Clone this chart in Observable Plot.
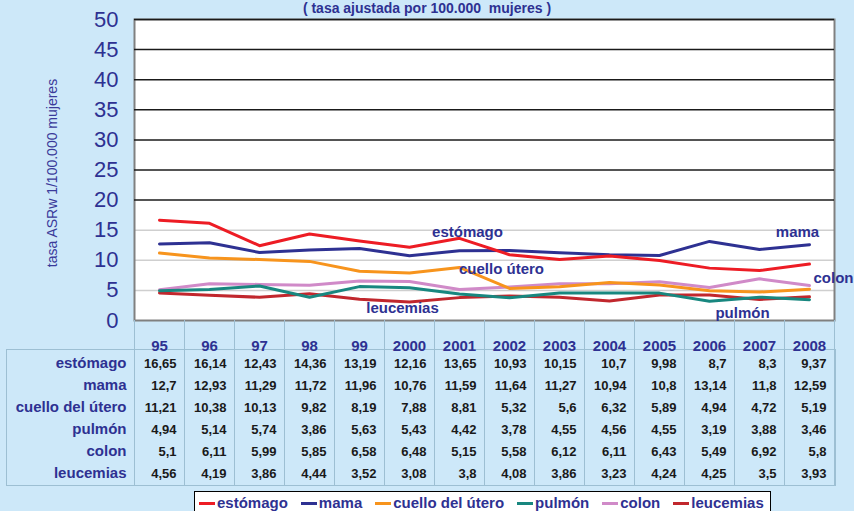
<!DOCTYPE html>
<html>
<head>
<meta charset="utf-8">
<script src="https://cdn.jsdelivr.net/npm/d3@7"></script>
<script src="https://cdn.jsdelivr.net/npm/@observablehq/plot@0.6"></script>
<style>
  html, body { margin: 0; padding: 0; }
  body { width: 854px; height: 511px; overflow: hidden; background: #cde8f9; font-family: Arial, "Liberation Sans", sans-serif; }
  #wrap { position: relative; width: 854px; height: 511px; overflow: hidden; }
  #title { position: absolute; left: 0; top: 1px; width: 854px; text-align: center; font-weight: bold; font-size: 14px; line-height: 14px; color: #2e3192; white-space: pre; }
  #chart { position: absolute; left: 0; top: 0; }
  #table { position: absolute; left: 0; top: 320px; }
  #legend { position: absolute; left: 194px; top: 491px; width: 577px; height: 30px; background: #fff; border: 1.5px solid #000; box-sizing: border-box; padding: 2px 0 0 4px; display: flex; gap: 13px; }
  .item { display: flex; align-items: center; font-weight: bold; font-size: 15px; line-height: 18px; color: #2e3192; height: 18px; }
  .sw { width: 16px; height: 3px; margin-right: 2px; }
</style>
</head>
<body>
<div id="wrap">
  <div id="chart"></div>
  <div id="table"></div>
  <div id="title"></div>
  <div id="legend"></div>
</div>
<script>
const titleText = "( tasa ajustada por 100.000  mujeres )";
const yLabel = "tasa ASRw 1/100.000 mujeres";
const years = ["95","96","97","98","99","2000","2001","2002","2003","2004","2005","2006","2007","2008"];
const seriesNames = ["estómago","mama","cuello del útero","pulmón","colon","leucemias"];
const seriesColors = ["#ed1c24","#2e3192","#f7941d","#18877f","#d08ac8","#c1272d"];
const estomago  = [16.65,16.14,12.43,14.36,13.19,12.16,13.65,10.93,10.15,10.7,9.98,8.7,8.3,9.37];
const mama      = [12.7,12.93,11.29,11.72,11.96,10.76,11.59,11.64,11.27,10.94,10.8,13.14,11.8,12.59];
const cuello    = [11.21,10.38,10.13,9.82,8.19,7.88,8.81,5.32,5.6,6.32,5.89,4.94,4.72,5.19];
const pulmon    = [4.94,5.14,5.74,3.86,5.63,5.43,4.42,3.78,4.55,4.56,4.55,3.19,3.88,3.46];
const colon     = [5.1,6.11,5.99,5.85,6.58,6.48,5.15,5.58,6.12,6.11,6.43,5.49,6.92,5.8];
const leucemias = [4.56,4.19,3.86,4.44,3.52,3.08,3.8,4.08,3.86,3.23,4.24,4.25,3.5,3.93];
const yTicks = [0,5,10,15,20,25,30,35,40,45,50];
const inlineLabels = [
  {text: "estómago", year: "2001", value: 14.6, dx: 8},
  {text: "mama", year: "2008", value: 14.6, dx: -12},
  {text: "cuello útero", year: "2002", value: 8.5, dx: -8},
  {text: "colon", year: "2008", value: 7.1, dx: 24},
  {text: "leucemias", year: "2000", value: 2.0, dx: -7},
  {text: "pulmón", year: "2007", value: 1.2, dx: -17}
];

const allValues = [estomago, mama, cuello, pulmon, colon, leucemias];
const rows = [];
seriesNames.forEach((s, i) => years.forEach((y, j) => rows.push({series: s, year: y, value: allValues[i][j]})));
const fmt = v => String(v).replace(".", ",");
const blue = "#2e3192";
const font = "Arial, 'Liberation Sans', sans-serif";

document.getElementById("title").textContent = titleText;

const xScale = {type: "point", domain: years, padding: 0.5, axis: null};

const chart = Plot.plot({
  width: 854, height: 322,
  marginLeft: 134, marginRight: 20, marginTop: 19, marginBottom: 2,
  style: {background: "transparent", fontFamily: font, color: blue, overflow: "visible"},
  x: xScale,
  y: {domain: [0, 50], axis: null},
  color: {domain: seriesNames, range: seriesColors},
  marks: [
    Plot.frame({fill: "white", stroke: null}),
    Plot.ruleY(yTicks.filter(d => d > 0 && d < 20), {y: d => d, stroke: "#cfcfcf", strokeWidth: 1.5}),
    Plot.frame({stroke: "#808080", strokeWidth: 2}),
    Plot.ruleY(yTicks.filter(d => d >= 20), {y: d => d, stroke: "#1a1a1a", strokeWidth: 1.5}),
    Plot.axisY(yTicks, {tickSize: 0, tickPadding: 16, fontSize: 22, label: null, color: blue}),
    Plot.text([yLabel], {frameAnchor: "left", textAnchor: "middle", dx: -82, dy: 3, rotate: -90, fontSize: 14, fill: "#3a3a9a"}),
    ...seriesNames.slice().reverse().map(s =>
      Plot.line(rows.filter(r => r.series === s), {x: "year", y: "value", stroke: "series", strokeWidth: 3, strokeLinejoin: "round"})
    ),
    ...inlineLabels.map(l =>
      Plot.text([l], {x: "year", y: "value", text: "text", dx: l.dx, fontSize: 15, fontWeight: "bold", fill: blue})
    )
  ]
});
document.getElementById("chart").appendChild(chart);

const last = years[years.length - 1];
const table = Plot.plot({
  width: 854, height: 166,
  marginLeft: 134, marginRight: 20, marginTop: 29, marginBottom: 1,
  style: {background: "transparent", fontFamily: font, overflow: "visible"},
  x: xScale,
  y: {type: "band", domain: seriesNames, padding: 0, axis: null},
  marks: [
    Plot.frame({stroke: "#9dbfd3", insetLeft: -128, insetRight: -1}),
    Plot.ruleX(years, {x: d => d, dx: -25, insetTop: -29, stroke: "#9dbfd3"}),
    Plot.ruleX([last], {x: d => d, dx: 25, insetTop: -29, stroke: "#9dbfd3"}),
    Plot.text(years, {x: d => d, frameAnchor: "top", dy: -9, fontSize: 15, fontWeight: "bold", fill: blue}),
    Plot.text(seriesNames, {y: d => d, frameAnchor: "left", textAnchor: "end", dx: -8, dy: 1, fontSize: 15, fontWeight: "bold", fill: blue}),
    Plot.text(rows, {x: "year", y: "series", text: d => fmt(d.value), textAnchor: "end", dx: 17, dy: 1, fontSize: 13, fontWeight: "bold", fill: "#1a1a1a"})
  ]
});
document.getElementById("table").appendChild(table);

const legend = document.getElementById("legend");
seriesNames.forEach((s, i) => {
  const it = document.createElement("div");
  it.className = "item";
  const sw = document.createElement("span");
  sw.className = "sw";
  sw.style.background = seriesColors[i];
  const t = document.createElement("span");
  t.textContent = s;
  it.appendChild(sw); it.appendChild(t);
  legend.appendChild(it);
});
</script>
</body>
</html>
